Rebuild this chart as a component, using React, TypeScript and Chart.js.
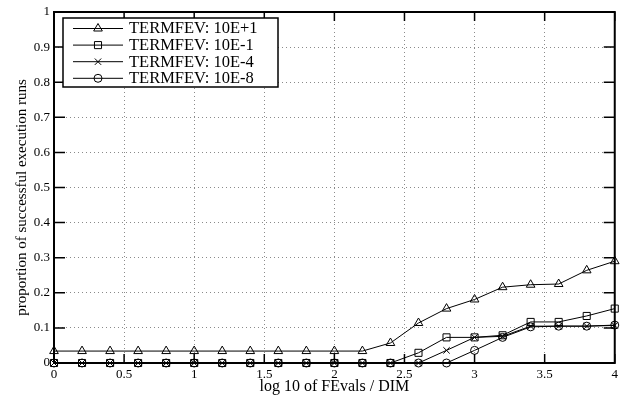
import React, { useEffect, useRef } from 'react';
import { Chart, registerables } from 'chart.js';

Chart.register(...registerables);

const logFevals = [0, 0.2, 0.4, 0.6, 0.8, 1, 1.2, 1.4, 1.6, 1.8, 2, 2.2, 2.4, 2.6, 2.8, 3, 3.2, 3.4, 3.6, 3.8, 4];
const termfevE1 = [0.034, 0.034, 0.034, 0.034, 0.034, 0.034, 0.034, 0.034, 0.034, 0.034, 0.034, 0.034, 0.057, 0.114, 0.155, 0.181, 0.216, 0.223, 0.225, 0.264, 0.29];
const termfevEm1 = [0, 0, 0, 0, 0, 0, 0, 0, 0, 0, 0, 0, 0, 0.029, 0.073, 0.073, 0.079, 0.117, 0.117, 0.134, 0.155];
const termfevEm4 = [0, 0, 0, 0, 0, 0, 0, 0, 0, 0, 0, 0, 0, 0, 0.036, 0.073, 0.076, 0.105, 0.105, 0.105, 0.107];
const termfevEm8 = [0, 0, 0, 0, 0, 0, 0, 0, 0, 0, 0, 0, 0, 0, 0, 0.036, 0.073, 0.103, 0.105, 0.105, 0.108];

const seriesLabels = ['TERMFEV: 10E+1', 'TERMFEV: 10E-1', 'TERMFEV: 10E-4', 'TERMFEV: 10E-8'];
const seriesValues = [termfevE1, termfevEm1, termfevEm4, termfevEm8];
const seriesMarkers = ['triangle', 'rect', 'crossRot', 'circle'];
const seriesRadius = [5, 5, 4.5, 4];

const xTicks = [0, 0.5, 1, 1.5, 2, 2.5, 3, 3.5, 4];
const yTicks = [0, 0.1, 0.2, 0.3, 0.4, 0.5, 0.6, 0.7, 0.8, 0.9, 1];

const xTitle = 'log 10 of FEvals / DIM';
const yTitle = 'proportion of successful execution runs';

const SERIF = '"Liberation Serif", "DejaVu Serif", "Times New Roman", serif';

function drawMarker(ctx: CanvasRenderingContext2D, style: string, x: number, y: number, r: number) {
  ctx.beginPath();
  if (style === 'triangle') {
    let rad = 0;
    ctx.moveTo(x + Math.sin(rad) * r, y - Math.cos(rad) * r);
    rad += (2 * Math.PI) / 3;
    ctx.lineTo(x + Math.sin(rad) * r, y - Math.cos(rad) * r);
    rad += (2 * Math.PI) / 3;
    ctx.lineTo(x + Math.sin(rad) * r, y - Math.cos(rad) * r);
    ctx.closePath();
  } else if (style === 'rect') {
    const s = Math.SQRT1_2 * r;
    ctx.rect(x - s, y - s, 2 * s, 2 * s);
  } else if (style === 'crossRot') {
    const s = Math.SQRT1_2 * r;
    ctx.moveTo(x - s, y - s);
    ctx.lineTo(x + s, y + s);
    ctx.moveTo(x - s, y + s);
    ctx.lineTo(x + s, y - s);
  } else {
    ctx.arc(x, y, r, 0, Math.PI * 2);
  }
  ctx.stroke();
}

const framePlugin = {
  id: 'frame',
  afterDatasetsDraw(chart: any) {
    const { ctx, chartArea } = chart;
    const { left, right, top, bottom } = chartArea;
    const xs = chart.scales.x;
    const ys = chart.scales.y;
    ctx.save();
    ctx.strokeStyle = '#000';
    ctx.lineWidth = 1.5;
    ctx.beginPath();
    xTicks.forEach((v) => {
      const px = xs.getPixelForValue(v);
      ctx.moveTo(px, bottom);
      ctx.lineTo(px, bottom - 9);
      ctx.moveTo(px, top);
      ctx.lineTo(px, top + 9);
    });
    yTicks.forEach((v) => {
      const py = ys.getPixelForValue(v);
      ctx.moveTo(left, py);
      ctx.lineTo(left + 11, py);
      ctx.moveTo(right, py);
      ctx.lineTo(right - 11, py);
    });
    ctx.stroke();
    ctx.lineWidth = 2;
    ctx.strokeRect(left, top, right - left, bottom - top);
    ctx.restore();
  },
};

const yTitlePlugin = {
  id: 'yTitle',
  afterDraw(chart: any) {
    const { ctx, chartArea } = chart;
    ctx.save();
    ctx.translate(22, (chartArea.top + chartArea.bottom) / 2 + 10);
    ctx.rotate(-Math.PI / 2);
    ctx.fillStyle = '#000';
    ctx.font = `15px ${SERIF}`;
    ctx.textAlign = 'center';
    ctx.textBaseline = 'middle';
    ctx.fillText(yTitle, 0, 0);
    ctx.restore();
  },
};

const legendPlugin = {
  id: 'boxLegend',
  afterDraw(chart: any) {
    const { ctx } = chart;
    const bx = 63, by = 18, bw = 215, bh = 69;
    ctx.save();
    ctx.fillStyle = '#fff';
    ctx.fillRect(bx, by, bw, bh);
    ctx.strokeStyle = '#000';
    ctx.lineWidth = 1.5;
    ctx.strokeRect(bx, by, bw, bh);
    chart.data.datasets.forEach((ds: any, i: number) => {
      const y = 28.5 + i * 16.6;
      ctx.strokeStyle = '#000';
      ctx.lineWidth = 1;
      ctx.beginPath();
      ctx.moveTo(73, y);
      ctx.lineTo(123, y);
      ctx.stroke();
      drawMarker(ctx, ds.pointStyle, 98, y, ds.pointRadius);
      ctx.fillStyle = '#000';
      ctx.font = `16.5px ${SERIF}`;
      ctx.textBaseline = 'middle';
      ctx.textAlign = 'left';
      ctx.fillText(ds.label, 129, y + 0.5);
    });
    ctx.restore();
  },
};

export default function App() {
  const canvasRef = useRef<HTMLCanvasElement | null>(null);

  useEffect(() => {
    if (!canvasRef.current) return;
    const datasets = seriesLabels.map((label, i) => ({
      label,
      data: logFevals.map((x, j) => ({ x, y: seriesValues[i][j] })),
      borderColor: '#000',
      borderWidth: 1,
      backgroundColor: 'rgba(0,0,0,0)',
      pointStyle: seriesMarkers[i],
      pointRadius: seriesRadius[i],
      pointBorderColor: '#000',
      pointBackgroundColor: 'rgba(0,0,0,0)',
      pointBorderWidth: 1,
      tension: 0,
      fill: false,
      clip: false as any,
    }));

    const gridColor = (edge: number[]) => (c: any) =>
      edge.includes(c.tick && c.tick.value) ? 'rgba(0,0,0,0)' : '#8a8a8a';

    const chart = new Chart(canvasRef.current, {
      type: 'line',
      data: { datasets },
      plugins: [framePlugin, legendPlugin, yTitlePlugin],
      options: {
        animation: false,
        responsive: false,
        maintainAspectRatio: false,
        layout: { padding: { left: 0, right: 1, top: 12, bottom: 0 } },
        plugins: {
          legend: { display: false },
          tooltip: { enabled: false },
        },
        scales: {
          x: {
            type: 'linear',
            min: 0,
            max: 4,
            afterBuildTicks: (s: any) => {
              s.ticks = xTicks.map((v) => ({ value: v }));
            },
            afterFit: (s: any) => {
              s.height = 37;
            },
            ticks: {
              callback: (v: any) => String(v),
              padding: 4,
              color: '#000',
              font: { family: SERIF, size: 13 },
              maxRotation: 0,
              autoSkip: false,
            },
            grid: { color: gridColor([0, 4]), lineWidth: 1, drawTicks: false },
            border: { display: false, dash: [1, 3] },
            title: {
              display: true,
              text: xTitle,
              color: '#000',
              font: { family: SERIF, size: 16 },
              padding: { top: 0, bottom: 4 },
            },
          },
          y: {
            type: 'linear',
            min: 0,
            max: 1,
            afterBuildTicks: (s: any) => {
              s.ticks = yTicks.map((v) => ({ value: v }));
            },
            afterFit: (s: any) => {
              s.width = 54;
            },
            ticks: {
              callback: (v: any) => String(Math.round(Number(v) * 10) / 10),
              padding: 4,
              color: '#000',
              font: { family: SERIF, size: 13 },
              autoSkip: false,
            },
            grid: { color: gridColor([0, 1]), lineWidth: 1, drawTicks: false },
            border: { display: false, dash: [1, 3] },
            title: { display: false, text: yTitle },
          },
        },
      } as any,
    });
    return () => chart.destroy();
  }, []);

  return (
    <div style={{ position: 'absolute', left: 0, top: 0, width: 622, height: 400, background: '#fff' }}>
      <canvas ref={canvasRef} width={622} height={400} style={{ display: 'block', width: 622, height: 400 }} />
    </div>
  );
}
